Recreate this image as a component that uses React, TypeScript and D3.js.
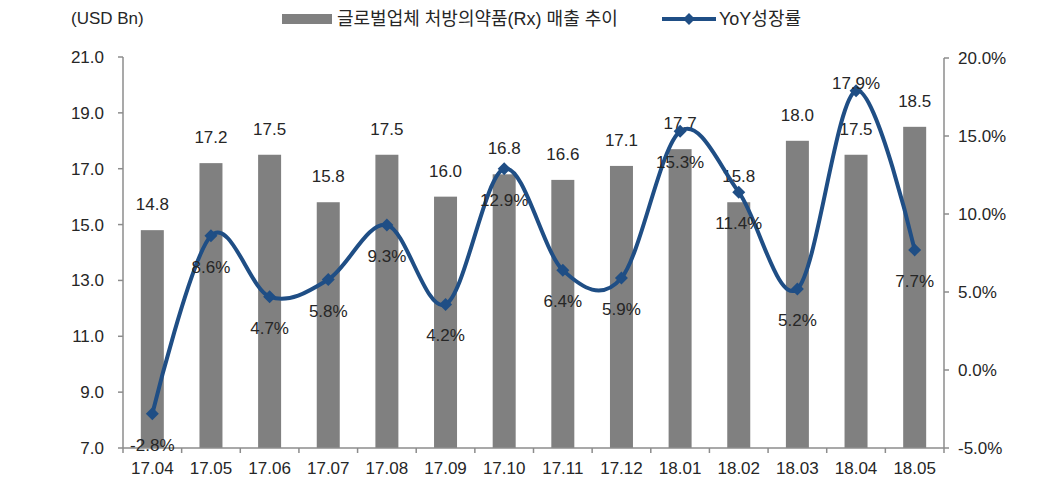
import React from "react";
import * as d3 from "d3";

const categories = ["17.04","17.05","17.06","17.07","17.08","17.09","17.10","17.11","17.12","18.01","18.02","18.03","18.04","18.05"];
const sales = [14.8,17.2,17.5,15.8,17.5,16.0,16.8,16.6,17.1,17.7,15.8,18.0,17.5,18.5];
const yoy = [-2.8,8.6,4.7,5.8,9.3,4.2,12.9,6.4,5.9,15.3,11.4,5.2,17.9,7.7];
const leftTicks = [7,9,11,13,15,17,19,21];
const rightTicks = [-5,0,5,10,15,20];
const barSeriesName = "글로벌업체 처방의약품(Rx) 매출 추이";
const lineSeriesName = "YoY성장률";
const unitLabel = "(USD Bn)";

const W = 1058, H = 481;
const left = 123, right = 944, top = 57, bottom = 448;
const FONT = "'Liberation Sans', Arial, 'Noto Sans CJK KR', sans-serif";
const TXT = "#262626";
const AX = "#8c8c8c";
const BAR = "#808080";
const LINE = "#1f4e85";

function diamond(cx: number, cy: number, r: number) {
  return `M${cx},${cy - r}L${cx + r},${cy}L${cx},${cy + r}L${cx - r},${cy}Z`;
}

export default function App() {
  const xOuter = d3.scaleBand<string>().domain(categories).range([left, right]);
  const yL = d3.scaleLinear().domain([7, 21]).range([bottom, top]);
  const yR = d3.scaleLinear().domain([-5, 20]).range([bottom, 58]);
  const cx = (c: string) => (xOuter(c) as number) + xOuter.bandwidth() / 2;
  const bw = 23;
  const line = d3.line<number>().x((_, i) => cx(categories[i])).y(d => yR(d)).curve(d3.curveCardinal.tension(0));
  const fs = 17;
  const maxYoy = d3.max(yoy);

  return (
    <svg width={W} height={H} style={{ position: "absolute", left: 0, top: 0, background: "#fff" }} fontFamily={FONT}>
      {/* legend */}
      <text x={71} y={24} fontSize={17} fill={TXT}>{unitLabel}</text>
      <rect x={282} y={14} width={50} height={10} fill={BAR} />
      <text x={337} y={25} fontSize={18} fill={TXT}>{barSeriesName}</text>
      <line x1={662} x2={716} y1={19} y2={19} stroke={LINE} strokeWidth={4} />
      <path d={diamond(689, 19, 6)} fill={LINE} />
      <text x={719} y={25} fontSize={18} fill={TXT}>{lineSeriesName}</text>

      {/* bars */}
      {categories.map((c, i) => (
        <rect key={c} x={cx(c) - bw / 2} y={yL(sales[i])} width={bw} height={bottom - yL(sales[i])} fill={BAR} />
      ))}

      {/* axes */}
      <line x1={left} x2={left} y1={top} y2={bottom} stroke={AX} strokeWidth={1.5} />
      <line x1={right} x2={right} y1={58} y2={bottom} stroke={AX} strokeWidth={1.5} />
      <line x1={left} x2={right} y1={bottom} y2={bottom} stroke={AX} strokeWidth={1.5} />
      {leftTicks.map(t => (
        <g key={t}>
          <line x1={left - 5} x2={left} y1={yL(t)} y2={yL(t)} stroke={AX} strokeWidth={1.5} />
          <text x={104} y={yL(t) + 6} fontSize={fs} textAnchor="end" fill={TXT}>{t.toFixed(1)}</text>
        </g>
      ))}
      {rightTicks.map(t => (
        <g key={t}>
          <line x1={right} x2={right + 5} y1={yR(t)} y2={yR(t)} stroke={AX} strokeWidth={1.5} />
          <text x={958} y={yR(t) + 6} fontSize={fs} fill={TXT}>{t.toFixed(1) + "%"}</text>
        </g>
      ))}
      {categories.map((c, i) => (
        <g key={c}>
          <line x1={xOuter(c) as number} x2={xOuter(c) as number} y1={bottom} y2={bottom + 5} stroke={AX} strokeWidth={1.5} />
          {i === categories.length - 1 && (
            <line x1={right} x2={right} y1={bottom} y2={bottom + 5} stroke={AX} strokeWidth={1.5} />
          )}
          <text x={cx(c)} y={474} fontSize={fs} textAnchor="middle" fill={TXT}>{c}</text>
        </g>
      ))}

      {/* bar labels */}
      {categories.map((c, i) => (
        <text key={c} x={cx(c)} y={yL(sales[i]) - 20} fontSize={fs} textAnchor="middle" fill={TXT}>{sales[i].toFixed(1)}</text>
      ))}

      {/* line */}
      <path d={line(yoy) || ""} fill="none" stroke={LINE} strokeWidth={4} />
      {yoy.map((v, i) => (
        <path key={i} d={diamond(cx(categories[i]), yR(v), 6.5)} fill={LINE} />
      ))}
      {yoy.map((v, i) => {
        const yy = v === maxYoy ? yR(v) - 2 : yR(v) + 37;
        return (
          <text key={i} x={cx(categories[i])} y={yy} fontSize={fs} textAnchor="middle" fill={TXT}>{v.toFixed(1) + "%"}</text>
        );
      })}
    </svg>
  );
}
